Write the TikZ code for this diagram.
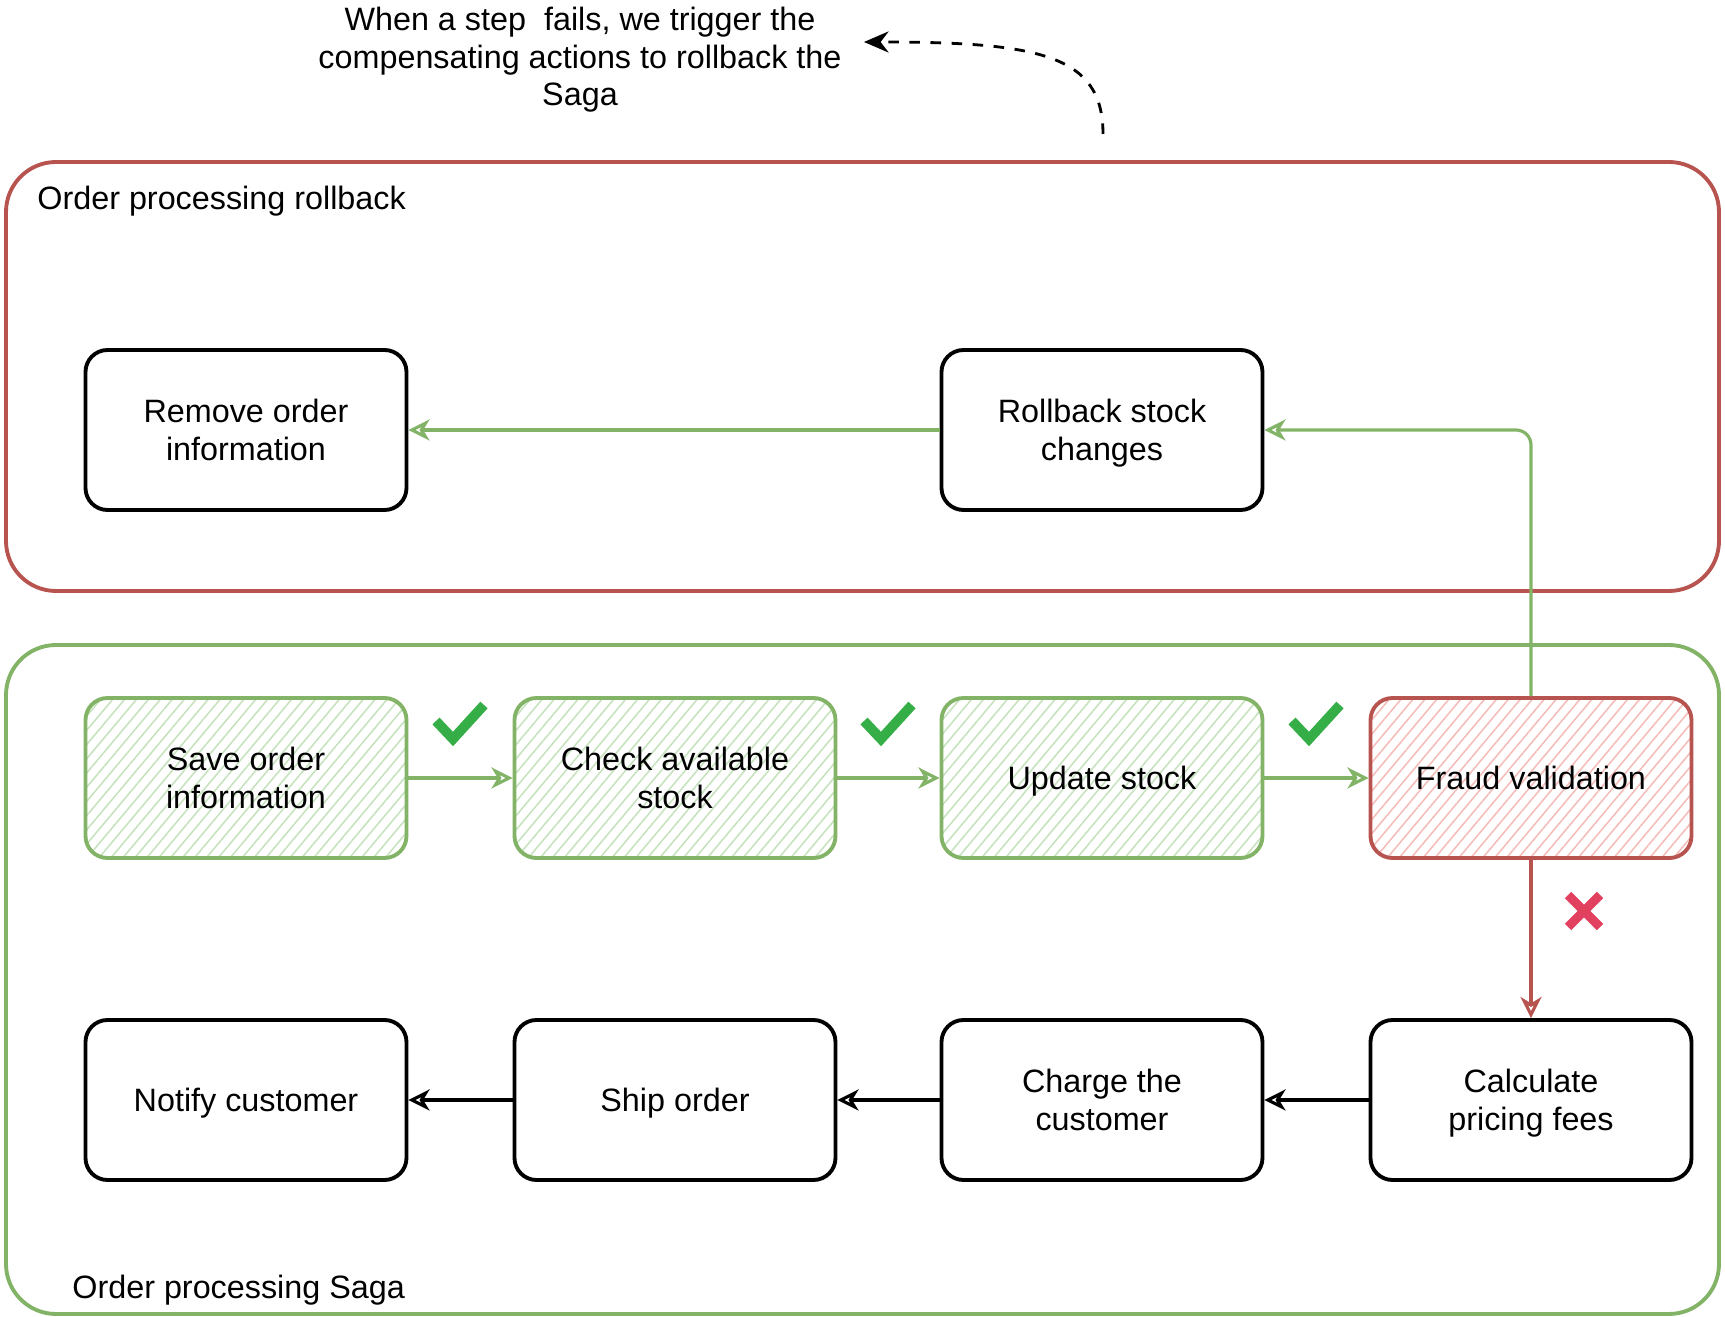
\documentclass[tikz,border=0pt]{standalone}
\usepackage{fontspec}
\setmainfont{Liberation Sans}
\usetikzlibrary{arrows.meta,patterns.meta}
\definecolor{okline}{HTML}{82B366}
\definecolor{okhatch}{HTML}{C6E2BE}
\definecolor{failline}{HTML}{B85450}
\definecolor{failhatch}{HTML}{F5BDBA}
\definecolor{tickgreen}{HTML}{36AE48}
\definecolor{crossred}{HTML}{E2405F}
\tikzset{
  txt/.style={font=\fontsize{9.2}{10.7}\selectfont, align=center},
  stepbox/.style={txt, text depth=0pt, draw, line width=1.1pt, rounded corners=0.22cm,
    minimum width=3.21cm, minimum height=1.6cm},
  donebox/.style={stepbox, draw=okline,
    pattern={Lines[angle=50,distance=2.6pt,line width=0.45pt]}, pattern color=okhatch},
  failbox/.style={stepbox, draw=failline,
    pattern={Lines[angle=50,distance=2.6pt,line width=0.45pt]}, pattern color=failhatch},
  group/.style={line width=1.1pt, rounded corners=0.5cm},
  flow/.style={-{Stealth[open,length=6pt,width=6pt,inset=1.8pt]}, line width=0.9pt},
}
\begin{document}
\begin{tikzpicture}
\useasboundingbox (0,0) rectangle (17.25,-13.17);
% the two groups
\draw[group, failline] (0.06,-1.62) rectangle (17.19,-5.91);
\draw[group, okline] (0.06,-6.45) rectangle (17.19,-13.14);
\node[txt, anchor=west] (rbtitle) at (0.25,-2.01) {Order processing rollback};
\node[txt, anchor=west] (sagatitle) at (0.60,-12.90) {Order processing Saga};
% note
\node[txt] (note) at (5.8,-0.60) {When a step\ \ fails, we trigger the\\compensating actions to rollback the\\Saga};
\coordinate (notetip) at (8.64,-0.42);
\coordinate (notetail) at (11.03,-1.34);
\draw[dashed, line width=0.8pt, -{Stealth[length=7pt,width=6pt]}] (notetail) .. controls (11.03,-0.55) and (10.4,-0.42) .. (notetip);
% rollback steps
\node[stepbox] (remove) at (2.46,-4.30) {Remove order\\information};
\node[stepbox] (rollback) at (11.02,-4.30) {Rollback stock\\changes};
% saga steps
\node[donebox] (save) at (2.46,-7.78) {Save order\\information};
\node[donebox] (check) at (6.75,-7.78) {Check available\\stock};
\node[donebox] (update) at (11.02,-7.78) {Update stock};
\node[failbox] (fraud) at (15.31,-7.78) {Fraud validation};
\node[stepbox] (notify) at (2.46,-11.00) {Notify customer};
\node[stepbox] (ship) at (6.75,-11.00) {Ship order};
\node[stepbox] (charge) at (11.02,-11.00) {Charge the\\customer};
\node[stepbox] (calc) at (15.31,-11.00) {Calculate\\pricing fees};
% connectors
\draw[flow, okline] (save) -- (check);
\draw[flow, okline] (check) -- (update);
\draw[flow, okline] (update) -- (fraud);
\draw[flow, okline, rounded corners=0.15cm] (fraud.north) |- (rollback.east);
\draw[flow, okline] (rollback) -- (remove);
\draw[flow, failline] (fraud) -- (calc);
\draw[flow] (calc) -- (charge);
\draw[flow] (charge) -- (ship);
\draw[flow] (ship) -- (notify);
% marks
\foreach \x in {4.60,8.88,13.16}
  \draw[tickgreen, line width=2.8pt] (\x-0.24,-7.21) -- (\x-0.07,-7.39) -- (\x+0.24,-7.05);
\draw[crossred, line width=2.6pt] (15.68,-8.95) -- (16.0,-9.27) (15.68,-9.27) -- (16.0,-8.95);
\end{tikzpicture}
\end{document}
